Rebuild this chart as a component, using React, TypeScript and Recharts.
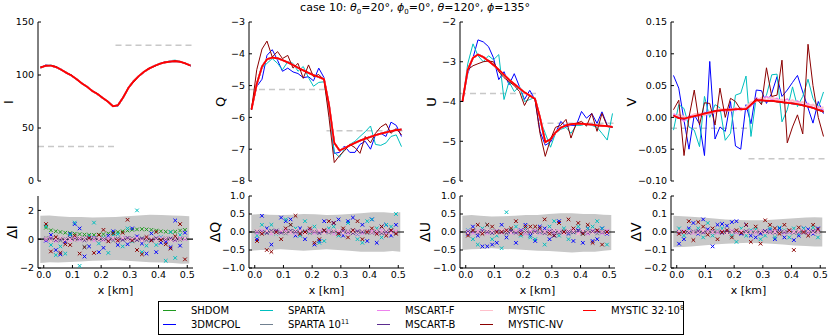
import React from "react";
import { Area, ComposedChart, Line, ReferenceLine, Scatter, XAxis, YAxis } from "recharts";

const FONT = "'DejaVu Sans', sans-serif";

// x positions of the columns [km]
const xs = [
  0.008, 0.025, 0.042, 0.058, 0.075, 0.092, 0.108, 0.125, 0.142, 0.158, 0.175, 0.192, 0.208, 0.225, 0.242,
  0.258, 0.275, 0.292, 0.308, 0.325, 0.342, 0.358, 0.375, 0.392, 0.408, 0.425, 0.442, 0.458, 0.475, 0.492,
];
const xTicks = [0, 0.1, 0.2, 0.3, 0.4, 0.5];

// ---- top row: I, Q, U, V ----
const redI = [107, 108.8, 108.8, 107.5, 105, 102, 99.5, 96, 92, 89, 85, 82, 78.5, 75, 70.5, 71.5, 79, 88, 94, 99, 103, 106, 108.5, 110.5, 111.8, 112.7, 113, 112.5, 111, 109];
const blueI = [107, 109.5, 108.5, 107, 105.5, 101.5, 99, 96.5, 91.5, 89.5, 84.5, 82.5, 78, 75.5, 70.5, 70.5, 79.5, 87.5, 94.5, 98.5, 103.5, 105.5, 109, 110, 112.5, 112, 113.5, 112, 111.5, 108.5];
const cyanI = [106.5, 109, 109.5, 107, 104.5, 102.5, 99, 95.5, 92.5, 88.5, 85.5, 81.5, 79, 74.5, 71, 70.5, 78.5, 88.5, 93, 99.5, 102.5, 106.5, 108, 111, 111.5, 113.5, 114, 113, 110.5, 109.5];
const darkredI = [107.5, 108.5, 109, 108, 105, 102, 100, 95.5, 92, 89, 85, 82.5, 78.5, 75, 70.5, 71.5, 79, 88, 93, 99, 103, 106.5, 108, 110.5, 112, 112.5, 113.5, 112.5, 111, 108.5];

const redQ = [-5.75, -4.95, -4.4, -4.17, -4.12, -4.14, -4.2, -4.27, -4.35, -4.44, -4.52, -4.6, -4.67, -4.73, -4.8, -5.6, -6.8, -7.04, -6.97, -6.88, -6.8, -6.73, -6.67, -6.61, -6.56, -6.51, -6.47, -6.43, -6.4, -6.38];
const blueQ = [-5.76, -5.03, -4.8, -4.05, -3.87, -4.2, -4.55, -4.45, -4.57, -4.62, -4.75, -4.72, -4.85, -4.45, -4.75, -5.6, -7.13, -7.1, -6.9, -7.1, -7.1, -6.85, -6.75, -7.0, -6.55, -6.5, -6.6, -6.15, -6.25, -6.6];
const cyanQ = [-5.76, -5.0, -4.45, -4.3, -4.15, -4.3, -4.5, -4.25, -4.3, -4.55, -4.4, -4.75, -5.02, -4.9, -4.88, -5.8, -7.1, -7.25, -7.0, -6.85, -6.75, -6.6, -6.45, -6.27, -6.85, -6.88, -6.8, -6.6, -6.55, -6.92];
const darkredQ = [-5.76, -4.5, -3.85, -3.6, -4.1, -3.93, -4.15, -4.05, -4.45, -4.3, -4.77, -4.35, -4.72, -4.65, -4.82, -6.0, -7.42, -7.2, -7.05, -6.85, -6.95, -7.13, -6.6, -6.8, -6.5, -6.3, -6.2, -6.5, -6.35, -6.55];

const redU = [-4.0, -3.2, -2.9, -2.82, -2.88, -2.98, -3.08, -3.2, -3.33, -3.45, -3.56, -3.67, -3.77, -3.85, -3.93, -4.4, -5.02, -4.95, -4.78, -4.66, -4.6, -4.57, -4.56, -4.56, -4.57, -4.58, -4.6, -4.61, -4.62, -4.64];
const blueU = [-4.0, -3.3, -2.9, -2.45, -2.5, -2.62, -2.9, -3.45, -3.25, -3.58, -3.3, -3.63, -3.95, -3.72, -3.95, -4.75, -5.1, -5.02, -4.8, -4.5, -4.63, -4.6, -4.6, -4.25, -4.42, -4.3, -4.55, -4.26, -4.6, -4.65];
const cyanU = [-4.0, -3.05, -2.55, -2.85, -3.0, -2.85, -2.95, -2.82, -3.95, -3.5, -3.75, -3.62, -4.0, -3.95, -3.9, -4.45, -4.8, -5.15, -4.8, -4.7, -4.65, -4.8, -4.6, -4.6, -4.55, -4.6, -4.65, -4.8, -4.97, -4.3];
const darkredU = [-4.0, -3.2, -3.1, -3.05, -3.0, -2.98, -3.0, -3.25, -3.4, -3.5, -3.6, -3.75, -4.1, -3.85, -3.95, -4.8, -5.38, -4.95, -4.65, -4.6, -4.45, -4.92, -4.55, -4.5, -4.62, -4.3, -4.75, -4.3, -4.62, -4.65];

const redV = [0.003, -0.001, -0.002, 0.0, 0.002, 0.004, 0.006, 0.008, 0.01, 0.011, 0.012, 0.012, 0.013, 0.013, 0.013, 0.02, 0.027, 0.027, 0.026, 0.026, 0.025, 0.024, 0.023, 0.022, 0.021, 0.019, 0.017, 0.015, 0.012, 0.009];
const blueV = [0.066, 0.046, -0.005, -0.05, 0.004, -0.01, -0.06, 0.088, -0.034, -0.015, -0.022, 0.025, -0.045, -0.05, 0.02, -0.01, 0.043, 0.042, 0.022, 0.038, 0.064, 0.033, 0.043, 0.055, 0.066, 0.04, 0.015, -0.009, 0.025, 0.006];
const cyanV = [-0.02, 0.02, 0.014, -0.015, -0.02, -0.046, 0.033, 0.0, 0.02, 0.015, -0.036, -0.025, 0.035, 0.038, 0.065, -0.03, 0.032, 0.022, 0.035, 0.067, 0.068, -0.007, 0.012, 0.048, 0.017, 0.033, 0.06, 0.03, 0.015, 0.04];
const darkredV = [0.012, 0.027, -0.06, 0.0, 0.043, -0.012, 0.023, 0.022, -0.012, 0.046, 0.0, 0.03, 0.025, 0.012, 0.013, 0.02, 0.03, 0.02, 0.078, 0.033, 0.035, 0.09, -0.04, -0.015, 0.004, -0.026, 0.115, 0.05, 0.0, -0.03];
const violetV = [0.006, 0.0, -0.006, 0.002, 0.004, 0.001, 0.008, 0.005, 0.01, 0.012, 0.009, 0.014, 0.011, 0.015, 0.012, 0.018, 0.031, 0.026, 0.033, 0.028, 0.03, 0.024, 0.029, 0.021, 0.026, 0.019, 0.022, 0.015, 0.017, 0.012];
const pinkV = [0.0, 0.004, 0.001, -0.003, 0.005, 0.006, 0.003, 0.009, 0.007, 0.013, 0.012, 0.01, 0.015, 0.011, 0.016, 0.024, 0.025, 0.031, 0.027, 0.032, 0.026, 0.028, 0.023, 0.027, 0.022, 0.024, 0.018, 0.02, 0.014, 0.016];

// 1D reference values (dashed)
const dashI = [32.5, 128];
const dashQ = [-5.12, -6.42];
const dashU = [-3.8, -4.55];
const dashV = [-0.017, -0.065];

// ---- bottom row: differences ----
const bandX = [-0.012, 0.02, 0.05, 0.09, 0.13, 0.17, 0.21, 0.25, 0.29, 0.33, 0.37, 0.41, 0.45, 0.48, 0.507];
const bandILo = [-1.65, -1.6, -1.62, -1.58, -1.55, -1.5, -1.48, -1.45, -1.5, -1.55, -1.6, -1.62, -1.65, -1.7, -1.68];
const bandIHi = [1.62, 1.65, 1.6, 1.55, 1.55, 1.5, 1.52, 1.55, 1.6, 1.65, 1.7, 1.68, 1.65, 1.62, 1.6];
const bandQLo = [-0.52, -0.5, -0.5, -0.48, -0.5, -0.52, -0.5, -0.48, -0.5, -0.52, -0.55, -0.55, -0.55, -0.53, -0.55];
const bandQHi = [0.48, 0.5, 0.48, 0.47, 0.48, 0.5, 0.49, 0.47, 0.48, 0.5, 0.52, 0.55, 0.55, 0.53, 0.55];
const bandULo = [-0.5, -0.48, -0.47, -0.45, -0.47, -0.48, -0.5, -0.52, -0.53, -0.55, -0.57, -0.55, -0.55, -0.52, -0.5];
const bandUHi = [0.45, 0.47, 0.45, 0.43, 0.44, 0.45, 0.47, 0.47, 0.5, 0.52, 0.52, 0.5, 0.5, 0.48, 0.47];
const bandVLo = [-0.085, -0.083, -0.08, -0.075, -0.07, -0.065, -0.062, -0.06, -0.062, -0.065, -0.07, -0.075, -0.078, -0.08, -0.08];
const bandVHi = [0.09, 0.088, 0.085, 0.08, 0.075, 0.07, 0.067, 0.065, 0.065, 0.068, 0.072, 0.077, 0.08, 0.082, 0.08];

const dI_green = [0.8, 0.62, 0.55, 0.5, 0.45, 0.42, 0.38, 0.35, 0.32, 0.3, 0.3, 0.32, 0.35, 0.4, 0.45, 0.5, 0.55, 0.6, 0.65, 0.68, 0.7, 0.68, 0.65, 0.6, 0.55, 0.52, 0.5, 0.52, 0.6, 0.65];
const dI_blue = [-0.1, 0.3, -0.75, -1.05, -0.2, 0.35, 1.05, 0.75, -1.2, -0.5, 0.1, -0.9, -0.6, 0.25, 0.55, -0.4, 0.1, -0.35, 0.75, 0.2, -0.3, -1.0, 0.4, -0.9, -0.25, -0.2, -0.55, 1.3, -0.45, 0.45];
const dI_cyan = [0.9, -0.4, -1.1, -0.5, -1.0, 0.3, 1.15, -1.85, -0.55, 0.2, 1.15, -0.3, 0.1, -0.95, 0.3, 0.35, -0.5, 0.75, -0.15, 2.0, -0.9, -0.45, -0.05, -0.4, 0.15, -1.5, 0.5, -1.3, 0.3, 0.1];
const dI_darkred = [1.05, -0.85, 0.15, -0.95, -0.35, -0.4, 0.25, -1.0, -0.55, 0.1, -0.95, 0.3, 0.65, -0.15, 0.4, -0.1, 0.45, 1.35, -0.1, -0.75, -1.05, 0.15, -0.1, 0.5, -0.05, -0.35, -0.65, 0.2, 1.05, -1.4];
const dI_gray = [0.1, -0.05, 0.08, -0.1, 0.03, 0.05, -0.08, 0.0, 0.1, -0.06, 0.04, -0.03, 0.07, 0.02, -0.09, 0.05, 0.0, -0.04, 0.08, -0.02, 0.06, -0.07, 0.03, 0.01, -0.05, 0.09, -0.03, 0.04, -0.06, 0.02];
const dI_violet = [-0.05, 0.1, -0.12, 0.06, 0.0, -0.08, 0.12, -0.04, 0.05, 0.09, -0.1, 0.03, -0.06, 0.08, 0.02, -0.11, 0.07, 0.04, -0.05, 0.1, -0.02, 0.06, -0.09, 0.05, 0.11, -0.04, 0.02, -0.08, 0.07, 0.0];
const dI_purple = [0.0, 0.05, -0.06, 0.02, -0.1, 0.08, 0.0, 0.06, -0.07, 0.03, 0.05, -0.02, 0.0, -0.08, 0.06, 0.02, -0.05, 0.09, 0.0, -0.06, 0.04, 0.01, -0.03, 0.07, -0.02, 0.0, 0.05, -0.04, 0.02, 0.06];
const dI_pink = [0.05, -0.1, 0.02, 0.09, -0.04, 0.0, -0.06, 0.1, 0.03, -0.08, 0.06, 0.0, 0.04, -0.05, 0.08, -0.02, 0.1, -0.07, 0.02, 0.05, -0.1, 0.03, 0.07, -0.03, 0.0, 0.06, -0.08, 0.04, -0.01, 0.08];

const dQ_blue = [-0.2, 0.45, 0.1, -0.35, 0.0, 0.4, 0.3, 0.35, -0.1, 0.1, -0.2, 0.05, -0.35, -0.25, 0.3, 0.0, 0.25, 0.35, -0.1, 0.3, 0.4, -0.05, 0.2, -0.25, 0.35, -0.3, 0.15, 0.2, -0.1, 0.2];
const dQ_cyan = [-0.1, 0.2, 0.0, 0.2, -0.05, 0.05, 0.35, 0.2, 0.1, -0.1, 0.3, 0.0, 0.15, -0.3, -0.25, 0.1, 0.15, -0.1, 0.0, 0.25, 0.05, -0.2, -0.3, 0.3, 0.35, 0.1, -0.15, 0.2, 0.15, 0.5];
const dQ_darkred = [-0.25, -0.05, -0.5, -0.55, 0.0, -0.2, 0.1, 0.2, 0.45, -0.05, 0.0, 0.1, -0.3, -0.2, 0.05, 0.3, 0.25, -0.05, 0.1, -0.15, 0.05, 0.3, -0.2, 0.0, 0.1, -0.05, 0.15, -0.1, 0.05, -0.05];
const dQ_gray = [0.02, -0.03, 0.0, 0.04, -0.02, 0.01, -0.04, 0.03, 0.0, -0.01, 0.03, -0.03, 0.02, 0.0, 0.04, -0.02, 0.01, -0.04, 0.02, 0.03, -0.01, 0.0, 0.03, -0.03, 0.01, 0.04, -0.02, 0.0, 0.02, -0.03];
const dQ_violet = [-0.03, 0.04, 0.02, -0.05, 0.03, 0.0, 0.05, -0.02, -0.04, 0.03, 0.01, 0.05, -0.03, 0.02, -0.01, 0.04, -0.05, 0.02, 0.0, -0.03, 0.05, 0.02, -0.04, 0.01, 0.03, -0.02, 0.04, -0.04, 0.0, 0.03];
const dQ_purple = [0.01, 0.0, -0.03, 0.02, 0.04, -0.02, 0.0, 0.03, 0.02, -0.04, 0.0, 0.02, 0.01, -0.03, 0.03, 0.0, 0.02, -0.02, 0.04, 0.0, -0.03, 0.02, 0.0, 0.03, -0.02, 0.01, -0.03, 0.02, 0.04, 0.0];
const dQ_pink = [0.04, -0.02, 0.03, 0.0, -0.04, 0.05, -0.01, 0.0, 0.04, 0.02, -0.05, 0.01, 0.03, 0.05, -0.02, 0.0, 0.03, 0.04, -0.03, 0.02, 0.0, -0.04, 0.05, 0.02, -0.01, 0.03, 0.0, 0.05, -0.03, 0.01];

const dU_blue = [-0.05, 0.15, -0.1, -0.4, -0.4, -0.35, -0.3, 0.2, -0.15, 0.0, -0.3, 0.05, 0.2, -0.1, -0.25, 0.15, 0.1, -0.2, -0.1, 0.3, 0.0, -0.05, -0.25, 0.05, -0.3, 0.1, -0.25, -0.2, 0.1, -0.05];
const dU_cyan = [0.05, -0.2, -0.35, 0.1, 0.2, -0.2, -0.1, -0.45, 0.55, 0.05, 0.15, -0.1, 0.1, -0.15, -0.2, 0.0, -0.35, 0.15, 0.3, -0.1, 0.1, -0.2, 0.0, 0.15, -0.05, 0.1, 0.15, 0.3, 0.1, -0.35];
const dU_darkred = [-0.1, 0.05, 0.2, -0.05, 0.2, 0.15, 0.0, 0.0, 0.05, 0.1, 0.3, -0.05, 0.15, 0.15, 0.15, 0.1, 0.35, -0.05, -0.1, 0.25, 0.0, 0.35, 0.1, 0.25, -0.05, 0.2, -0.3, 0.05, -0.35, 0.0];
const dU_gray = [-0.02, 0.03, 0.01, -0.03, 0.0, 0.04, -0.02, 0.02, -0.04, 0.01, 0.03, 0.0, -0.03, 0.02, 0.04, -0.01, 0.0, 0.03, -0.02, 0.01, 0.04, -0.03, 0.0, 0.02, -0.02, 0.03, 0.01, -0.04, 0.02, 0.0];
const dU_violet = [0.04, -0.03, 0.02, 0.05, -0.04, 0.01, 0.03, -0.02, 0.05, -0.03, 0.0, 0.04, -0.05, 0.01, 0.03, -0.04, 0.02, 0.05, -0.01, 0.03, -0.04, 0.0, 0.05, -0.02, 0.02, -0.05, 0.03, 0.01, -0.03, 0.04];
const dU_purple = [0.0, 0.02, -0.02, 0.03, 0.01, -0.03, 0.02, 0.0, -0.01, 0.03, -0.02, 0.01, 0.04, -0.01, 0.0, 0.02, -0.03, 0.01, 0.03, -0.02, 0.0, 0.02, -0.01, 0.03, 0.0, -0.02, 0.02, 0.03, -0.01, 0.01];
const dU_pink = [-0.03, 0.05, 0.0, -0.02, 0.04, 0.02, -0.04, 0.05, 0.01, -0.02, 0.04, -0.03, 0.02, 0.05, -0.04, 0.03, 0.0, -0.02, 0.05, 0.01, -0.03, 0.04, 0.02, -0.05, 0.03, 0.0, -0.02, 0.05, 0.01, -0.03];

const dV_blue = [-0.065, -0.04, 0.02, 0.05, -0.01, 0.07, 0.015, -0.08, 0.04, 0.045, 0.035, 0.055, 0.06, -0.01, 0.04, -0.02, -0.03, -0.01, 0.005, 0.01, -0.04, 0.02, -0.03, 0.0, -0.045, -0.02, 0.02, 0.015, -0.01, 0.02];
const dV_cyan = [0.02, -0.02, 0.01, 0.0, 0.02, -0.03, 0.05, -0.02, 0.01, 0.02, 0.0, -0.02, -0.055, 0.02, -0.02, 0.01, 0.015, -0.04, -0.02, 0.02, -0.03, 0.025, 0.01, -0.03, 0.02, -0.01, 0.02, 0.0, 0.025, -0.03];
const dV_darkred = [-0.01, 0.0, 0.06, -0.045, 0.055, 0.03, -0.015, 0.02, -0.04, 0.0, 0.01, -0.03, 0.01, -0.005, 0.04, -0.055, 0.03, -0.065, 0.065, 0.04, 0.02, -0.01, 0.04, 0.01, -0.1, 0.025, 0.0, -0.02, 0.04, 0.015];
const dV_gray = [0.003, -0.002, 0.004, 0.0, -0.003, 0.002, 0.005, -0.004, 0.001, 0.003, -0.002, 0.0, 0.004, -0.003, 0.002, -0.001, 0.003, 0.005, -0.002, 0.0, 0.004, -0.003, 0.001, 0.002, -0.004, 0.003, 0.0, -0.002, 0.004, 0.001];
const dV_violet = [-0.004, 0.005, 0.002, -0.006, 0.004, 0.0, 0.006, -0.003, -0.005, 0.004, 0.001, 0.006, -0.004, 0.003, -0.001, 0.005, -0.006, 0.003, 0.0, -0.004, 0.006, 0.003, -0.005, 0.001, 0.004, -0.003, 0.005, -0.005, 0.0, 0.004];
const dV_purple = [0.001, 0.0, -0.004, 0.003, 0.005, -0.003, 0.0, 0.004, 0.002, -0.005, 0.0, 0.003, 0.001, -0.004, 0.004, 0.0, 0.003, -0.003, 0.005, 0.0, -0.004, 0.003, 0.0, 0.004, -0.003, 0.001, -0.004, 0.003, 0.005, 0.0];
const dV_pink = [0.005, -0.003, 0.004, 0.0, -0.005, 0.006, -0.001, 0.0, 0.005, 0.003, -0.006, 0.001, 0.004, 0.006, -0.003, 0.0, 0.004, 0.005, -0.004, 0.003, 0.0, -0.005, 0.006, 0.003, -0.001, 0.004, 0.0, 0.006, -0.004, 0.001];

const C = {
  shdom: "#1f9a1f",
  mcpol: "#0000ff",
  sparta: "#00bfbf",
  sparta11: "#708090",
  mscartF: "#ee82ee",
  mscartB: "#5b2c8f",
  mystic: "#ffc0cb",
  nv: "#8b0000",
  ref: "#ff0000",
};

const LEGEND = [
  { name: "SHDOM", color: C.shdom },
  { name: "3DMCPOL", color: C.mcpol },
  { name: "SPARTA", color: C.sparta },
  { name: "SPARTA 10", sup: "11", color: C.sparta11 },
  { name: "MSCART-F", color: C.mscartF },
  { name: "MSCART-B", color: C.mscartB },
  { name: "MYSTIC", color: C.mystic },
  { name: "MYSTIC-NV", color: C.nv },
  { name: "MYSTIC 32·10", sup: "8", color: C.ref },
];

const PW = 155;
const YW = 44;
const LEFTS = [38, 249, 460, 671];
const TOP_Y = 22;
const TOP_H = 159;
const BOT_Y = 196;
const BOT_H = 72;
const BOT_DOMAIN = [-0.02, 0.52];

const tickStyle = { fontSize: 9.5, fill: "#000", fontFamily: FONT };
const minus = (s: string) => s.replace("-", "\u2212");

type LineSpec = { key: string; color: string; w: number; vals: number[] };
type DotSpec = { key: string; color: string; vals: number[] };

function XMark(props: any) {
  const { cx, cy, color } = props;
  if (cx == null || cy == null) return null;
  const r = 1.8;
  return (
    <g stroke={color} strokeWidth={1}>
      <line x1={cx - r} y1={cy - r} x2={cx + r} y2={cy + r} />
      <line x1={cx - r} y1={cy + r} x2={cx + r} y2={cy - r} />
    </g>
  );
}

interface PanelProps {
  left: number;
  bottom?: boolean;
  yDomain: number[];
  yTicks: number[];
  fmt: (v: number) => string;
  lines?: LineSpec[];
  dash?: number[];
  dots?: DotSpec[];
  band?: { lo: number[]; hi: number[] };
}

function Panel({ left, bottom, yDomain, yTicks, fmt, lines = [], dash, dots = [], band }: PanelProps) {
  // margins leave room for the first/last tick labels
  const mT = 7;
  const mR = 3;
  const xH = bottom ? 18 : 0;
  const mB = bottom ? 0 : 7;
  const h = bottom ? BOT_H : TOP_H;
  const top = bottom ? BOT_Y : TOP_Y;
  const xDomain = bottom ? BOT_DOMAIN : [0, 0.5];

  const rows = band
    ? bandX.map((x, i) => ({ x, band: [band.lo[i], band.hi[i]] }))
    : xs.map((x, i) => {
        const r: Record<string, number> = { x };
        lines.forEach((l) => (r[l.key] = l.vals[i]));
        return r;
      });

  return (
    <div style={{ position: "absolute", left: left - YW, top: top - mT }}>
      <ComposedChart
        width={YW + PW + mR}
        height={h + mT + mB + xH}
        data={rows}
        margin={{ top: mT, right: mR, bottom: mB, left: 0 }}
      >
        <XAxis
          dataKey="x"
          type="number"
          domain={xDomain}
          ticks={xTicks}
          interval={0}
          height={xH}
          tickSize={-3}
          tickMargin={6}
          tick={bottom ? tickStyle : false}
          tickFormatter={(v: number) => v.toFixed(1)}
          stroke="#000"
          allowDataOverflow
        />
        <XAxis
          xAxisId="t"
          orientation="top"
          type="number"
          domain={xDomain}
          ticks={xTicks}
          interval={0}
          height={0}
          tickSize={-3}
          tick={false}
          stroke="#000"
          allowDataOverflow
        />
        <YAxis
          type="number"
          domain={yDomain}
          ticks={yTicks}
          interval={0}
          width={YW}
          tickSize={-3}
          tickMargin={7}
          tick={tickStyle}
          tickFormatter={fmt}
          stroke="#000"
          allowDataOverflow
        />
        <YAxis
          yAxisId="r"
          orientation="right"
          type="number"
          domain={yDomain}
          ticks={yTicks}
          interval={0}
          width={0}
          tickSize={-3}
          tick={false}
          stroke="#000"
          allowDataOverflow
        />
        {band && (
          <Area dataKey="band" stroke="none" fill="#c8c8c8" fillOpacity={1} isAnimationActive={false} />
        )}
        {bottom && <ReferenceLine y={0} stroke="#000" strokeWidth={1.2} />}
        {dash &&
          dash.map((y, i) => (
            <Line
              key={"d" + i}
              data={i === 0 ? [{ x: 0, ref: y }, { x: 0.25, ref: y }] : [{ x: 0.25, ref: y }, { x: 0.5, ref: y }]}
              dataKey="ref"
              stroke="#c8c8c8"
              strokeWidth={1.5}
              strokeDasharray="6 4"
              dot={false}
              isAnimationActive={false}
            />
          ))}
        {lines.map((l) => (
          <Line
            key={l.key}
            dataKey={l.key}
            stroke={l.color}
            strokeWidth={l.w}
            dot={false}
            isAnimationActive={false}
          />
        ))}
        {dots.map((d) => (
          <Scatter
            key={d.key}
            data={xs.map((x, i) => ({ x, y: d.vals[i] }))}
            dataKey="y"
            isAnimationActive={false}
            shape={(p: any) => <XMark cx={p.cx} cy={p.cy} color={d.color} />}
          />
        ))}
      </ComposedChart>
    </div>
  );
}

function topLines(red: number[], blue: number[], cyan: number[], nv: number[], violet = red, pink = red): LineSpec[] {
  return [
    { key: "shdom", color: C.shdom, w: 1.5, vals: red },
    { key: "mcpol", color: C.mcpol, w: 1, vals: blue },
    { key: "sparta", color: C.sparta, w: 1, vals: cyan },
    { key: "sparta11", color: C.sparta11, w: 1.5, vals: red },
    { key: "mscartF", color: C.mscartF, w: 1.5, vals: violet },
    { key: "mscartB", color: C.mscartB, w: 1.5, vals: red },
    { key: "mystic", color: C.mystic, w: 2, vals: pink },
    { key: "nv", color: C.nv, w: 1, vals: nv },
    { key: "ref", color: C.ref, w: 1.8, vals: red },
  ];
}

function dotSet(
  green: number[] | null,
  blue: number[],
  cyan: number[],
  gray: number[],
  violet: number[],
  purple: number[],
  pink: number[],
  nv: number[]
): DotSpec[] {
  const out: DotSpec[] = [];
  if (green) out.push({ key: "g", color: C.shdom, vals: green });
  out.push({ key: "b", color: C.mcpol, vals: blue });
  out.push({ key: "c", color: C.sparta, vals: cyan });
  out.push({ key: "s", color: C.sparta11, vals: gray });
  out.push({ key: "v", color: C.mscartF, vals: violet });
  out.push({ key: "p", color: C.mscartB, vals: purple });
  out.push({ key: "k", color: C.mystic, vals: pink });
  out.push({ key: "n", color: C.nv, vals: nv });
  return out;
}

const f0 = (v: number) => minus(v.toFixed(0));
const f1 = (v: number) => minus(v.toFixed(1));
const f2 = (v: number) => minus(v.toFixed(2));

function VLabel({ x, y, size, children }: { x: number; y: number; size: number; children: React.ReactNode }) {
  return (
    <div
      style={{
        position: "absolute",
        left: x,
        top: y,
        transform: "translate(-50%, -50%) rotate(-90deg)",
        fontSize: size,
        whiteSpace: "nowrap",
        lineHeight: 1,
      }}
    >
      {children}
    </div>
  );
}

export default function App() {
  const topLabels = ["I", "Q", "U", "V"];
  const topLabelX = [8, 220, 431, 631];
  const botLabelX = [12, 215, 425, 636];
  return (
    <div
      style={{
        position: "absolute",
        left: 0,
        top: 0,
        width: 830,
        height: 336,
        background: "#fff",
        fontFamily: FONT,
        color: "#000",
        overflow: "hidden",
      }}
    >
      <div style={{ position: "absolute", left: 0, top: 1, width: 830, textAlign: "center", fontSize: 11 }}>
        case 10: <i>θ</i>
        <sub style={{ fontSize: 7 }}>0</sub>=20°, <i>ϕ</i>
        <sub style={{ fontSize: 7 }}>0</sub>=0°, <i>θ</i>=120°, <i>ϕ</i>=135°
      </div>

      <Panel left={LEFTS[0]} yDomain={[0, 150]} yTicks={[0, 50, 100, 150]} fmt={f0} dash={dashI}
        lines={topLines(redI, blueI, cyanI, darkredI)} />
      <Panel left={LEFTS[1]} yDomain={[-8, -3]} yTicks={[-8, -7, -6, -5, -4, -3]} fmt={f0} dash={dashQ}
        lines={topLines(redQ, blueQ, cyanQ, darkredQ)} />
      <Panel left={LEFTS[2]} yDomain={[-6, -2]} yTicks={[-6, -5, -4, -3, -2]} fmt={f0} dash={dashU}
        lines={topLines(redU, blueU, cyanU, darkredU)} />
      <Panel left={LEFTS[3]} yDomain={[-0.1, 0.15]} yTicks={[-0.1, -0.05, 0, 0.05, 0.1, 0.15]} fmt={f2} dash={dashV}
        lines={topLines(redV, blueV, cyanV, darkredV, violetV, pinkV)} />

      <Panel left={LEFTS[0]} bottom yDomain={[-2, 3]} yTicks={[-2, 0, 2]} fmt={f0}
        band={{ lo: bandILo, hi: bandIHi }}
        dots={dotSet(dI_green, dI_blue, dI_cyan, dI_gray, dI_violet, dI_purple, dI_pink, dI_darkred)} />
      <Panel left={LEFTS[1]} bottom yDomain={[-1, 1]} yTicks={[-1, -0.5, 0, 0.5, 1]} fmt={f1}
        band={{ lo: bandQLo, hi: bandQHi }}
        dots={dotSet(null, dQ_blue, dQ_cyan, dQ_gray, dQ_violet, dQ_purple, dQ_pink, dQ_darkred)} />
      <Panel left={LEFTS[2]} bottom yDomain={[-1, 1]} yTicks={[-1, -0.5, 0, 0.5, 1]} fmt={f1}
        band={{ lo: bandULo, hi: bandUHi }}
        dots={dotSet(null, dU_blue, dU_cyan, dU_gray, dU_violet, dU_purple, dU_pink, dU_darkred)} />
      <Panel left={LEFTS[3]} bottom yDomain={[-0.2, 0.2]} yTicks={[-0.2, -0.1, 0, 0.1, 0.2]} fmt={f1}
        band={{ lo: bandVLo, hi: bandVHi }}
        dots={dotSet(null, dV_blue, dV_cyan, dV_gray, dV_violet, dV_purple, dV_pink, dV_darkred)} />

      {topLabels.map((t, i) => (
        <VLabel key={"t" + t} x={topLabelX[i]} y={TOP_Y + TOP_H / 2} size={13}>
          {t}
        </VLabel>
      ))}
      {topLabels.map((t, i) => (
        <VLabel key={"b" + t} x={botLabelX[i]} y={BOT_Y + BOT_H / 2} size={14}>
          Δ{t}
        </VLabel>
      ))}
      {LEFTS.map((l) => (
        <div
          key={"xl" + l}
          style={{ position: "absolute", left: l, top: 284, width: PW, textAlign: "center", fontSize: 11 }}
        >
          x [km]
        </div>
      ))}

      <div
        style={{
          position: "absolute",
          left: 158,
          top: 301,
          width: 524,
          height: 32,
          border: "1px solid #000",
          fontSize: 10,
        }}
      >
        {LEGEND.map((e, i) => {
          const col = Math.floor(i / 2);
          const row = i % 2;
          const colX = [4, 101, 218, 321, 424][col];
          return (
            <div key={e.name} style={{ position: "absolute", left: colX, top: 2 + row * 14, height: 13, display: "flex", alignItems: "center", whiteSpace: "nowrap" }}>
              <span style={{ display: "inline-block", width: 13, height: 0, borderTop: `1.5px solid ${e.color}`, marginRight: 15 }} />
              <span>
                {e.name}
                {e.sup && <sup style={{ fontSize: 6.5, verticalAlign: "top", position: "relative", top: -1 }}>{e.sup}</sup>}
              </span>
            </div>
          );
        })}
      </div>
    </div>
  );
}
